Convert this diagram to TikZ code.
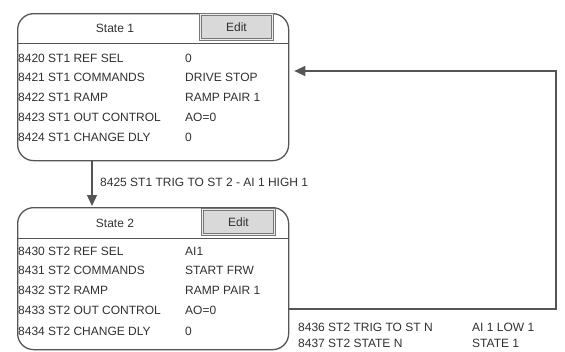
\documentclass[tikz,border=0pt]{standalone}
\usepackage{fontspec}
\setmainfont{Liberation Sans}
\usetikzlibrary{arrows.meta,calc}
\definecolor{edge}{HTML}{555555}
\definecolor{txt}{HTML}{303030}
\definecolor{btn}{HTML}{D9D9D9}
\begin{document}
\begin{tikzpicture}[x=1pt,y=-1pt,
  font=\fontsize{12}{14}\selectfont,
  statebox/.style={draw=edge,line width=1.3pt,rounded corners=16pt,anchor=north west,minimum width=271pt,inner sep=0pt},
  editbtn/.style={draw=edge!80,line width=0.9pt,fill=btn,double=white!85!gray,double distance=0.8pt,anchor=north west,minimum width=72pt,minimum height=25pt,inner sep=0pt,text=txt},
  lbl/.style={anchor=west,inner sep=0pt,text=txt},
  hdr/.style={anchor=center,inner sep=0pt,text=txt},
  conn/.style={draw=edge,line width=1.3pt,-{Triangle[length=11pt,width=10pt]}}
]
\useasboundingbox (0,0) rectangle (565,351);
% State 1
\node[statebox,minimum height=147pt] (s1) at (17,13) {};
\draw[edge,line width=1pt] (17,43) -- (288,43);
\node[hdr] (s1t) at (115,28) {State 1};
\node[editbtn] (s1e) at (200,14) {Edit};
\node[lbl] (a1) at (18,58) {8420 ST1 REF SEL};
\node[lbl] (a2) at (18,77) {8421 ST1 COMMANDS};
\node[lbl] (a3) at (18,97) {8422 ST1 RAMP};
\node[lbl] (a4) at (18,117) {8423 ST1 OUT CONTROL};
\node[lbl] (a5) at (18,137) {8424 ST1 CHANGE DLY};
\node[lbl] (v1) at (185,58) {0};
\node[lbl] (v2) at (185,77) {DRIVE STOP};
\node[lbl] (v3) at (185,97) {RAMP PAIR 1};
\node[lbl] (v4) at (185,117) {AO=0};
\node[lbl] (v5) at (185,137) {0};
% State 2
\node[statebox,minimum height=142pt] (s2) at (17,207) {};
\draw[edge,line width=1pt] (17,238) -- (288,238);
\node[hdr] (s2t) at (115,223) {State 2};
\node[editbtn] (s2e) at (202,209) {Edit};
\node[lbl] (b1) at (18,251) {8430 ST2 REF SEL};
\node[lbl] (b2) at (18,270) {8431 ST2 COMMANDS};
\node[lbl] (b3) at (18,290) {8432 ST2 RAMP};
\node[lbl] (b4) at (18,310) {8433 ST2 OUT CONTROL};
\node[lbl] (b5) at (18,331) {8434 ST2 CHANGE DLY};
\node[lbl] (w1) at (185,251) {AI1};
\node[lbl] (w2) at (185,270) {START FRW};
\node[lbl] (w3) at (185,290) {RAMP PAIR 1};
\node[lbl] (w4) at (185,310) {AO=0};
\node[lbl] (w5) at (185,331) {0};
% transition 1 -> 2
\coordinate (c1) at (92,0);
\draw[conn,shorten >=1pt] (s1.south -| c1) -- (s2.north -| c1);
\node[lbl] (t1) at (100,182) {8425 ST1 TRIG TO ST 2 - AI 1 HIGH 1};
% transition 2 -> 1
\coordinate (r1) at (556,309);
\coordinate (r2) at (556,71);
\draw[conn,shorten >=5pt] (s2.east |- r1) -- (r1) -- (r2) -- (s1.east |- r2);
\node[lbl] (t2) at (298,327) {8436 ST2 TRIG TO ST N};
\node[lbl] (t3) at (298,343) {8437 ST2 STATE N};
\node[lbl] (u2) at (472,327) {AI 1 LOW 1};
\node[lbl] (u3) at (472,343) {STATE 1};
\end{tikzpicture}
\end{document}
